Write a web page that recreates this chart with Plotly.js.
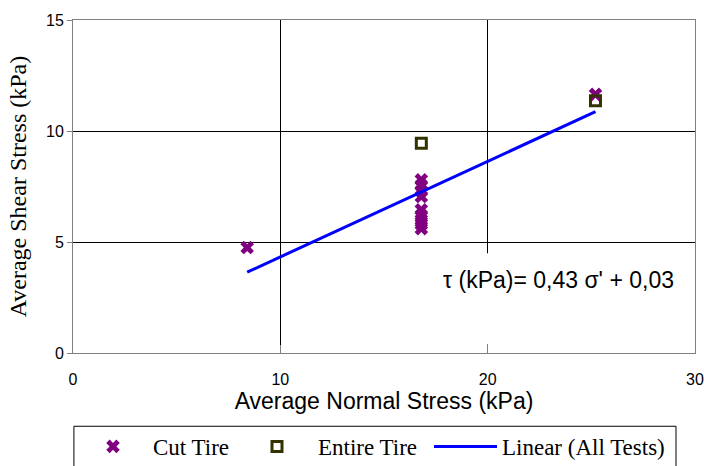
<!DOCTYPE html>
<html>
<head>
<meta charset="utf-8">
<script src="https://cdn.plot.ly/plotly-3.0.1.min.js"></script>
<style>
  html, body { margin: 0; padding: 0; background: #fff; }
  #chart { width: 704px; height: 466px; }
</style>
</head>
<body>
<div id="chart"></div>
<script>
// ---- Data ----
const cutTireX = [8.4, 16.8, 16.8, 16.8, 16.8, 16.8, 16.8, 16.8, 16.8, 16.8, 25.2];
const cutTireY = [4.75, 7.8, 7.55, 7.3, 7.05, 6.45, 6.2, 6.0, 5.8, 5.6, 11.65];
const entireTireX = [16.8, 25.2];
const entireTireY = [9.45, 11.36];
const fitX = [8.4, 25.2];
const fitY = [3.64, 10.87];
const seriesNames = ['Cut Tire', 'Entire Tire', 'Linear (All Tests)'];
const xTitle = 'Average Normal Stress (kPa)';
const yTitle = 'Average Shear Stress (kPa)';
const equationText = 'τ (kPa)= 0,43 σ\' + 0,03';

const legendFont = { family: 'Liberation Serif', size: 23, color: '#000' };

const traces = [
  {
    x: cutTireX, y: cutTireY, name: seriesNames[0], type: 'scatter', mode: 'markers',
    marker: { symbol: 'x', size: 12, color: '#800080', line: { width: 0 } },
    legend: 'legend'
  },
  {
    x: entireTireX, y: entireTireY, name: seriesNames[1], type: 'scatter', mode: 'markers',
    marker: { symbol: 'square-open', size: 10, color: '#333300', line: { width: 3, color: '#333300' } },
    legend: 'legend2'
  },
  {
    x: fitX, y: fitY, name: seriesNames[2], type: 'scatter', mode: 'lines',
    line: { color: '#0000FF', width: 3 },
    legend: 'legend3'
  }
];

const legendBase = {
  orientation: 'h', yanchor: 'top', xanchor: 'left', y: -0.216,
  bgcolor: 'rgba(0,0,0,0)', borderwidth: 0, font: legendFont
};

const layout = {
  width: 704, height: 466,
  margin: { l: 73, r: 9, t: 20, b: 113, autoexpand: false },
  paper_bgcolor: '#fff', plot_bgcolor: '#fff',
  showlegend: true,
  legend: Object.assign({}, legendBase, { x: 0.0, itemwidth: 70 }),
  legend2: Object.assign({}, legendBase, { x: (236 - 73) / 622, itemwidth: 72 }),
  legend3: Object.assign({}, legendBase, { x: (429 - 73) / 622, itemwidth: 63 }),
  xaxis: {
    range: [0, 30], dtick: 10, tick0: 0,
    showgrid: true, gridcolor: '#000', gridwidth: 1, zeroline: false,
    showline: true, mirror: true, linecolor: '#808080', linewidth: 1,
    ticks: 'inside', ticklen: 8, tickcolor: '#808080',
    ticklabelstandoff: 12,
    tickfont: { family: 'Liberation Sans', size: 16, color: '#000' },
    title: { text: xTitle, standoff: 4, font: { family: 'Liberation Sans', size: 23, color: '#000' } },
    fixedrange: true
  },
  yaxis: {
    range: [0, 15], dtick: 5, tick0: 0,
    showgrid: true, gridcolor: '#000', gridwidth: 1, zeroline: false,
    showline: true, mirror: true, linecolor: '#808080', linewidth: 1,
    ticks: 'outside', ticklen: 5, tickcolor: '#808080',
    tickfont: { family: 'Liberation Sans', size: 16, color: '#000' },
    title: { text: yTitle, standoff: 12, font: { family: 'Liberation Serif', size: 24, color: '#000' } },
    fixedrange: true
  },
  shapes: [
    // white text box behind the equation (hides grid lines)
    { type: 'rect', xref: 'x', yref: 'y', x0: 19.0, x1: 29.7, y0: 0.38, y1: 4.49,
      fillcolor: '#fff', line: { width: 0 }, layer: 'between' },
    // legend frame
    { type: 'rect', xref: 'paper', yref: 'paper', x0: 0.0015, x1: (676 - 73) / 622, y0: -0.22, y1: -0.5,
      fillcolor: 'rgba(0,0,0,0)', line: { color: '#000', width: 1 } }
  ],
  annotations: [
    { x: 23.41, y: 3.27, xref: 'x', yref: 'y', text: equationText, showarrow: false,
      xanchor: 'center', yanchor: 'middle',
      font: { family: 'Liberation Sans', size: 23, color: '#000' } }
  ]
};

Plotly.newPlot('chart', traces, layout, { staticPlot: true, displayModeBar: false });
</script>
</body>
</html>
